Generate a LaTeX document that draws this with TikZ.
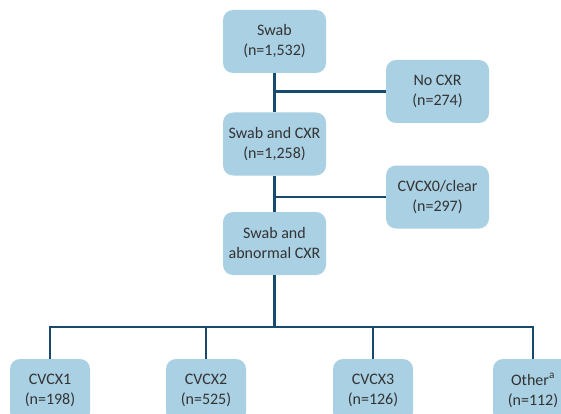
\documentclass[tikz,border=0pt]{standalone}
\usepackage{fontspec}
\setmainfont{Carlito}
\definecolor{boxblue}{HTML}{A9D0E3}
\definecolor{linenavy}{HTML}{174A6C}
\definecolor{textgrey}{HTML}{333333}
\tikzset{
  stagebox/.style={fill=boxblue, rounded corners=10pt, minimum width=103pt,
    minimum height=63pt, inner sep=2pt, align=center, text=textgrey,
    font=\fontsize{16}{20}\selectfont},
  gradebox/.style={stagebox, minimum width=80pt},
  flowline/.style={draw=linenavy, line width=2.6pt}
}
\begin{document}
\begin{tikzpicture}[x=1pt,y=-1pt]
\clip (0,0) rectangle (561,414);
% main column
\node[stagebox] (swab) at (274.5,41.5) {Swab\\(n=1,532)};
\node[stagebox] (swabcxr) at (274.5,144) {Swab and CXR\\(n=1,258)};
\node[stagebox] (abnormal) at (274.5,243.5) {Swab and\\abnormal CXR};
% exclusions
\node[stagebox] (nocxr) at (437.5,91.5) {No CXR\\(n=274)};
\node[stagebox] (clear) at (437.5,197) {CVCX0/clear\\(n=297)};
% grades
\node[gradebox] (g1) at (50,390.5) {CVCX1\\(n=198)};
\node[gradebox] (g2) at (206,390.5) {CVCX2\\(n=525)};
\node[gradebox] (g3) at (373,390.5) {CVCX3\\(n=126)};
\node[gradebox] (g4) at (533,390.5) {Other\textsuperscript{a}\\(n=112)};
\coordinate (bus) at (274.5,327);
\draw[flowline] (swab) -- (swabcxr);
\draw[flowline] (swabcxr) -- (abnormal);
\draw[flowline] (swab.south |- nocxr.west) -- (nocxr.west);
\draw[flowline] (swabcxr.south |- clear.west) -- (clear.west);
\draw[flowline] (abnormal) -- (bus);
\draw[flowline] (g1.north) |- (bus) -| (g4.north);
\foreach \g in {g2,g3}
  \draw[flowline] (\g.north) -- (\g.north |- bus);
\end{tikzpicture}
\end{document}
